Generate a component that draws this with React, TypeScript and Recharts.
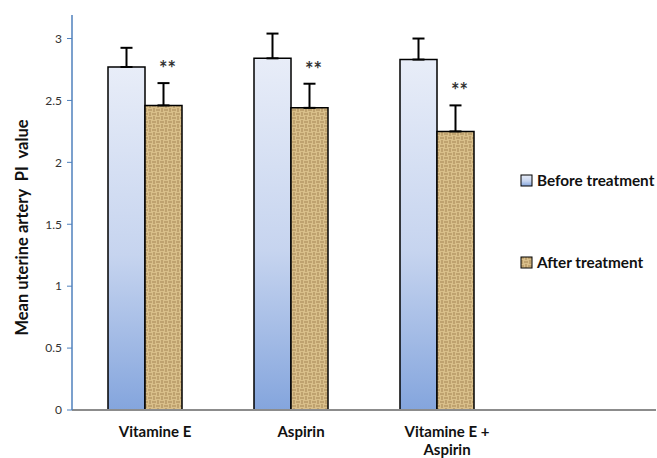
import React from 'react';
import {
  BarChart, Bar, XAxis, YAxis, ErrorBar, LabelList, Legend,
} from 'recharts';

const categories = ['Vitamine E', 'Aspirin', 'Vitamine E +\nAspirin', ''];
const beforeValues = [2.77, 2.84, 2.83];
const beforeErrors = [0.155, 0.2, 0.17];
const afterValues = [2.46, 2.44, 2.25];
const afterErrors = [0.18, 0.195, 0.21];
const yTicks = [0, 0.5, 1, 1.5, 2, 2.5, 3];
const seriesNames = ['Before treatment', 'After treatment'];

const data = categories.map((name, i) => ({
  name,
  before: beforeValues[i],
  beforeErr: beforeErrors[i] !== undefined ? [0, beforeErrors[i]] : undefined,
  after: afterValues[i],
  afterErr: afterErrors[i] !== undefined ? [0, afterErrors[i]] : undefined,
}));

const FONT = 'Lato, "Open Sans", sans-serif';

const CategoryTick = (props: any) => {
  const { x, y, payload } = props;
  const lines = String(payload.value).split('\n');
  return (
    <text x={x + 10} y={y + 19} textAnchor="middle" fontFamily={FONT} fontWeight="bold" fontSize={15} fill="#111">
      {lines.map((line, i) => (
        <tspan key={i} x={x + 10} dy={i === 0 ? 0 : 18}>{line}</tspan>
      ))}
    </text>
  );
};

const Stars = (props: any) => {
  const { x, y, width, height, index, value } = props;
  if (value == null || !height) return null;
  const top = y - (afterErrors[index] * height) / value;
  return (
    <text x={x + width / 2 + 4} y={top - 7} textAnchor="middle" fontFamily={FONT} fontWeight="bold" fontSize={20} fill="#333">
      **
    </text>
  );
};

const LegendBox = () => (
  <div style={{ fontFamily: FONT, fontWeight: 'bold', fontSize: 15.3, color: '#111', whiteSpace: 'nowrap' }}>
    {seriesNames.map((name, i) => (
      <div key={name} style={{ display: 'flex', alignItems: 'center', height: 20, marginBottom: i === 0 ? 62 : 0 }}>
        <svg width={14} height={13} style={{ marginRight: 3 }}>
          <rect x={1} y={1} width={11} height={11} fill={i === 0 ? 'url(#beforeGrad)' : 'url(#burlap)'} stroke="#000" strokeWidth={1} />
        </svg>
        {name}
      </div>
    ))}
  </div>
);

export default function App() {
  return (
    <div style={{ position: 'absolute', left: 0, top: 0, width: 657, height: 458, overflow: 'hidden', background: '#fff' }}>
      <BarChart
        width={657}
        height={458}
        data={data}
        margin={{ top: 15, right: 1, bottom: 0, left: 0 }}
        barGap={0}
      >
        <defs>
          <linearGradient id="beforeGrad" x1="0" y1="0" x2="0" y2="1">
            <stop offset="0%" stopColor="#e8edf8" />
            <stop offset="55%" stopColor="#c6d4ef" />
            <stop offset="100%" stopColor="#84a5dd" />
          </linearGradient>
          <pattern id="burlap" width="8" height="8" patternUnits="userSpaceOnUse">
            <rect width="8" height="8" fill="#c2a064" />
            <path d="M0 1H4M0 3H4M4 5H8M4 7H8" stroke="#f0deb0" strokeWidth="1" />
            <path d="M5 0V4M7 0V4M1 4V8M3 4V8" stroke="#f0deb0" strokeWidth="1" />
            <path d="M0 2H4M4 6H8M6 0V4M2 4V8" stroke="#8e6d3b" strokeWidth="0.7" />
          </pattern>
        </defs>
        <XAxis
          dataKey="name"
          tick={<CategoryTick />}
          tickLine={false}
          axisLine={{ stroke: '#8c8c8c', strokeWidth: 2 }}
          height={48}
          interval={0}
        />
        <YAxis
          domain={[0, 3.19]}
          ticks={yTicks}
          width={72}
          tickSize={5}
          tickMargin={5}
          axisLine={{ stroke: '#4f81bd', strokeWidth: 1.5 }}
          tickLine={{ stroke: '#4f81bd' }}
          tick={{ fill: '#333', fontSize: 12, fontFamily: FONT }}
          label={{
            content: (p: any) => {
              const vb = p.viewBox || { y: 15, height: 395 };
              const cy = vb.y + vb.height / 2 + 15;
              return (
                <text
                  x={22}
                  y={cy}
                  transform={`rotate(-90, 22, ${cy})`}
                  textAnchor="middle"
                  dominantBaseline="central"
                  fontFamily={FONT}
                  fontWeight="bold"
                  fontSize={16.5}
                  fill="#111"
                  style={{ whiteSpace: 'pre' }}
                >
                  Mean uterine artery  PI  value
                </text>
              );
            },
          }}
        />
        <Legend
          layout="vertical"
          align="center"
          verticalAlign="middle"
          content={<LegendBox />}
          wrapperStyle={{ left: 520, top: 170, width: 137 }}
        />
        <Bar dataKey="before" name={seriesNames[0]} barSize={37} fill="url(#beforeGrad)" stroke="#000" strokeWidth={1.5} isAnimationActive={false}>
          <ErrorBar dataKey="beforeErr" direction="y" width={6} stroke="#000" strokeWidth={2} />
        </Bar>
        <Bar dataKey="after" name={seriesNames[1]} barSize={37} fill="url(#burlap)" stroke="#000" strokeWidth={1.5} isAnimationActive={false}>
          <ErrorBar dataKey="afterErr" direction="y" width={6} stroke="#000" strokeWidth={2} />
          <LabelList dataKey="after" content={<Stars />} />
        </Bar>
      </BarChart>
    </div>
  );
}
